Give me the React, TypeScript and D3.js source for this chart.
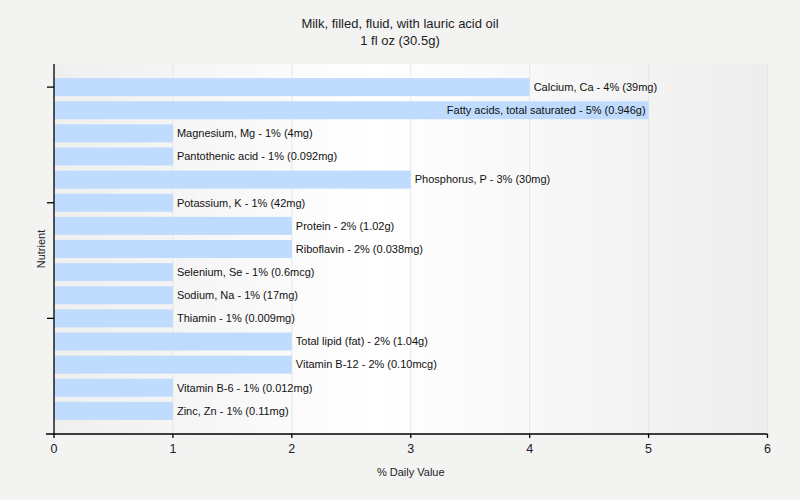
import React from "react";
import * as d3 from "d3";

const categories = [
  "Calcium, Ca",
  "Fatty acids, total saturated",
  "Magnesium, Mg",
  "Pantothenic acid",
  "Phosphorus, P",
  "Potassium, K",
  "Protein",
  "Riboflavin",
  "Selenium, Se",
  "Sodium, Na",
  "Thiamin",
  "Total lipid (fat)",
  "Vitamin B-12",
  "Vitamin B-6",
  "Zinc, Zn",
];
const values = [4, 5, 1, 1, 3, 1, 2, 2, 1, 1, 1, 2, 2, 1, 1];
const amounts = [
  "39mg", "0.946g", "4mg", "0.092mg", "30mg", "42mg", "1.02g", "0.038mg",
  "0.6mcg", "17mg", "0.009mg", "1.04g", "0.10mcg", "0.012mg", "0.11mg",
];
const xTicks = [0, 1, 2, 3, 4, 5, 6];
const title = "Milk, filled, fluid, with lauric acid oil";
const subtitle = "1 fl oz (30.5g)";

const W = 800, H = 500;
const left = 54, right = 767.5, top = 64, bottom = 434;
const font = "'Liberation Sans', Arial, sans-serif";

export default function App() {
  const x = d3.scaleLinear().domain([0, 6]).range([left, right]);
  const y = d3.scaleBand<string>().domain(categories).range([top, bottom]).paddingInner(0.222).paddingOuter(0.611);
  const yTickCats = categories.filter((_, i) => i % 5 === 0);
  return (
    <svg width={W} height={H} style={{ position: "absolute", left: 0, top: 0, display: "block" }}>
      <defs>
        <linearGradient id="bg" x1="0" x2="1" y1="0" y2="0">
          <stop offset="0" stopColor="#efefef" />
          <stop offset="0.45" stopColor="#ffffff" />
          <stop offset="1" stopColor="#ededed" />
        </linearGradient>
      </defs>
      <rect x={0} y={0} width={W} height={H} fill="#f3f3f2" />
      <rect x={left} y={top} width={right - left} height={bottom - top} fill="url(#bg)" />
      {xTicks.map((t) => (
        <line key={"g" + t} x1={x(t)} x2={x(t)} y1={top} y2={bottom} stroke="#e6e6e6" strokeWidth={1} />
      ))}
      <text x={400} y={28} textAnchor="middle" fontFamily={font} fontSize={13} fill="#222">{title}</text>
      <text x={400} y={45} textAnchor="middle" fontFamily={font} fontSize={13} fill="#222">{subtitle}</text>
      {categories.map((c, i) => {
        const y0 = y(c)!;
        const bw = y.bandwidth();
        const xe = x(values[i]);
        const label = `${c} - ${values[i]}% (${amounts[i]})`;
        const inside = xe + 4 + label.length * 5.6 > right;
        return (
          <g key={c}>
            <rect x={x(0)} y={y0} width={xe - x(0)} height={bw} fill="#bfdbfd" />
            <text
              x={inside ? xe - 3 : xe + 4}
              y={y0 + bw / 2}
              dy="0.35em"
              textAnchor={inside ? "end" : "start"}
              fontFamily={font}
              fontSize={11}
              fill="#111"
            >
              {label}
            </text>
          </g>
        );
      })}
      <line x1={left} x2={left} y1={top} y2={bottom} stroke="#000" strokeWidth={1.3} />
      <line x1={46} x2={right} y1={bottom} y2={bottom} stroke="#000" strokeWidth={1.3} />
      {yTickCats.map((c) => {
        const yc = y(c)! + y.bandwidth() / 2;
        return <line key={"yt" + c} x1={47} x2={left} y1={yc} y2={yc} stroke="#000" strokeWidth={1.3} />;
      })}
      {xTicks.map((t) => (
        <g key={"xt" + t}>
          <line x1={x(t)} x2={x(t)} y1={bottom} y2={bottom + 4} stroke="#000" strokeWidth={1.3} />
          <text x={x(t)} y={bottom + 15} dy="0.35em" textAnchor="middle" fontFamily={font} fontSize={12.5} fill="#222">{t}</text>
        </g>
      ))}
      <text x={(left + right) / 2} y={476} textAnchor="middle" fontFamily={font} fontSize={11} fill="#222">% Daily Value</text>
      <text transform={`translate(45,${(top + bottom) / 2}) rotate(-90)`} textAnchor="middle" fontFamily={font} fontSize={11} fill="#222">Nutrient</text>
    </svg>
  );
}
